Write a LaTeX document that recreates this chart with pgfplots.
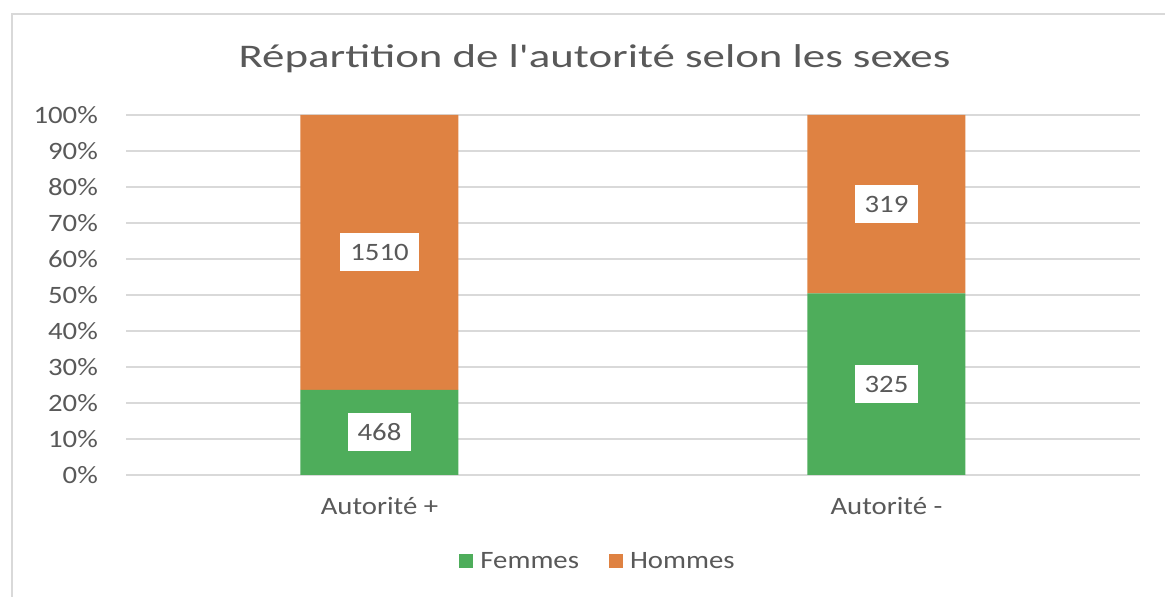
\documentclass[border=0pt]{standalone}
\usepackage{pgfplots}
\usepackage{pgfplotstable}
\pgfplotsset{compat=1.18}
\usepackage{fontspec}
\setmainfont{Carlito}[FakeStretch=1.15]
\newfontfamily\titlefont{Carlito}[FakeStretch=1.36]
\definecolor{fgreen}{RGB}{78,173,91}
\definecolor{morange}{RGB}{223,130,66}
\definecolor{txtgray}{RGB}{89,89,89}
\definecolor{gridgray}{RGB}{217,217,217}

\pgfplotstableread{
x fem hom femn homn femmid hommid
0 23.66 76.34 468 1510 11.83 61.83
1 50.47 49.53 325 319 25.24 75.24
}\data

\newcommand{\lblfont}{\fontsize{25}{30}\selectfont}

\begin{document}
\begin{tikzpicture}
\useasboundingbox (0pt,0pt) rectangle (1165pt,597pt);
\fill[white] (0pt,0pt) rectangle (1165pt,597pt);
\draw[gridgray, line width=2pt] (12pt,-2pt) -- (12pt,583pt) -- (1167pt,583pt);

\begin{axis}[
  at={(126pt,122pt)}, anchor=south west, scale only axis,
  width=1014pt, height=360pt,
  ybar stacked, bar width=158pt,
  xmin=-0.5, xmax=1.5, ymin=0, ymax=100,
  xtick={0,1}, xticklabels={Autorité +, Autorité -},
  ytick={0,10,20,30,40,50,60,70,80,90,100},
  yticklabels={0\%,10\%,20\%,30\%,40\%,50\%,60\%,70\%,80\%,90\%,100\%},
  ymajorgrids, grid style={gridgray, line width=1.5pt},
  axis line style={draw=none}, major tick length=0pt,
  tick label style={font=\lblfont, text=txtgray},
  /pgf/number format/assume math mode=true,
  xticklabel style={anchor=base, yshift=-40pt},
  yticklabel style={anchor=east, inner sep=0pt, xshift=-28pt},
  legend style={at={(0.4655,-0.239)}, anchor=center, draw=none, fill=none,
    legend columns=2, font=\lblfont, text=txtgray,
    /tikz/every odd column/.append style={column sep=5pt},
    /tikz/every even column/.append style={column sep=28pt}},
  legend image code/.code={\fill[#1] (0pt,-7pt) rectangle (14pt,7pt);},
]
\addplot[fill=fgreen, draw=none] table[x=x, y=fem]{\data};
\addplot[fill=morange, draw=none] table[x=x, y=hom]{\data};
\legend{Femmes, Hommes}
\end{axis}

\begin{axis}[
  at={(126pt,122pt)}, anchor=south west, scale only axis,
  width=1014pt, height=360pt,
  xmin=-0.5, xmax=1.5, ymin=0, ymax=100,
  hide axis,
  nodes near coords, point meta=explicit symbolic,
  nodes near coords align=center,
  every node near coord/.append style={fill=white, text=txtgray, font=\lblfont,
    anchor=center, inner xsep=10pt, inner ysep=0pt, minimum height=38pt},
]
\addplot[draw=none] table[x=x, y=femmid, meta=femn]{\data};
\addplot[draw=none] table[x=x, y=hommid, meta=homn]{\data};
\end{axis}

\node[font=\titlefont\fontsize{33}{40}\selectfont, text=txtgray, anchor=base]
  at (594.5pt,529pt) {Répartition de l'autorité selon les sexes};
\end{tikzpicture}
\end{document}
